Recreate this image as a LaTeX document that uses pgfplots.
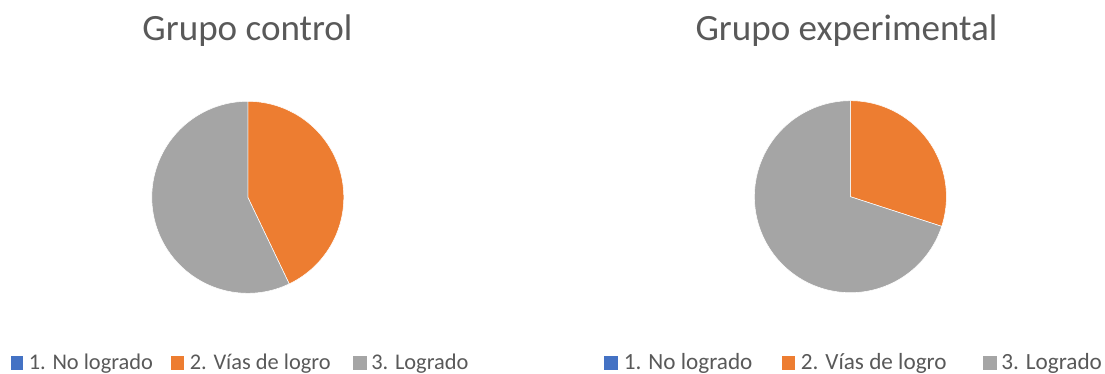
\documentclass[border=0pt]{standalone}
\usepackage{pgfplots}
\pgfplotsset{compat=1.18}
\usepackage{pgfplotstable}
\usepackage{fontspec}
\setmainfont{Carlito}
\definecolor{cblue}{HTML}{4472C4}
\definecolor{corange}{HTML}{ED7D31}
\definecolor{cgray}{HTML}{A5A5A5}
\definecolor{ctext}{HTML}{595959}
% values in percent: 1. No logrado, 2. Vias de logro, 3. Logrado
\pgfplotstableread{
grupo nolog vias logr
control 0 42.9 57.1
experimental 0 30.0 70.0
}\pietable
\pgfplotstablegetelem{0}{vias}\of\pietable \let\cVias\pgfplotsretval
\pgfplotstablegetelem{1}{vias}\of\pietable \let\eVias\pgfplotsretval
\begin{document}
\begin{tikzpicture}
\begin{axis}[
  x=0.75pt, y=0.75pt,
  xmin=0, xmax=1105, ymin=0, ymax=373,
  hide axis, clip=false,
]
\path (axis cs:0,0) rectangle (axis cs:1105,373);
% Grupo control
\pgfmathsetmacro{\cA}{3.6*\cVias}
\addplot[fill=corange, draw=white, line width=0.4pt, domain=0:\cA, samples=90, variable=\t]
  ({247.8+96*sin(t)},{175.7+96*cos(t)}) -- (axis cs:247.8,175.7) -- cycle;
\addplot[fill=cgray, draw=white, line width=0.4pt, domain=\cA:360, samples=120, variable=\t]
  ({247.8+96*sin(t)},{175.7+96*cos(t)}) -- (axis cs:247.8,175.7) -- cycle;
% Grupo experimental
\pgfmathsetmacro{\eA}{3.6*\eVias}
\addplot[fill=corange, draw=white, line width=0.4pt, domain=0:\eA, samples=90, variable=\t]
  ({850.4+96*sin(t)},{176.3+96*cos(t)}) -- (axis cs:850.4,176.3) -- cycle;
\addplot[fill=cgray, draw=white, line width=0.4pt, domain=\eA:360, samples=120, variable=\t]
  ({850.4+96*sin(t)},{176.3+96*cos(t)}) -- (axis cs:850.4,176.3) -- cycle;
% titles
\node[anchor=base, inner sep=0, text=ctext, font=\fontsize{27.8}{32}\selectfont] at (axis cs:247.5,332) {Grupo control};
\node[anchor=base, inner sep=0, text=ctext, font=\fontsize{27.8}{32}\selectfont] at (axis cs:846.5,332) {Grupo experimental};
% legends
\fill[cblue]   (axis cs:10.7,3) rectangle (axis cs:23.3,17);
\fill[corange] (axis cs:171,3) rectangle (axis cs:184.3,17);
\fill[cgray]   (axis cs:353,3) rectangle (axis cs:366.7,17);
\node[anchor=base west, inner sep=0, text=ctext, font=\fontsize{16.8}{20}\selectfont] at (axis cs:28.5,3.5) {1. No logrado};
\node[anchor=base west, inner sep=0, text=ctext, font=\fontsize{16.8}{20}\selectfont] at (axis cs:189.5,3.5) {2. Vías de logro};
\node[anchor=base west, inner sep=0, text=ctext, font=\fontsize{16.8}{20}\selectfont] at (axis cs:371,3.5) {3. Logrado};
\fill[cblue]   (axis cs:604.3,3) rectangle (axis cs:617.7,17);
\fill[corange] (axis cs:781.7,3) rectangle (axis cs:795,17);
\fill[cgray]   (axis cs:983,3) rectangle (axis cs:996.7,17);
\node[anchor=base west, inner sep=0, text=ctext, font=\fontsize{17.4}{20}\selectfont] at (axis cs:623.5,3.5) {1. No logrado};
\node[anchor=base west, inner sep=0, text=ctext, font=\fontsize{17.4}{20}\selectfont] at (axis cs:800.5,3.5) {2. Vías de logro};
\node[anchor=base west, inner sep=0, text=ctext, font=\fontsize{17.4}{20}\selectfont] at (axis cs:1001,3.5) {3. Logrado};
\end{axis}
\end{tikzpicture}
\end{document}
